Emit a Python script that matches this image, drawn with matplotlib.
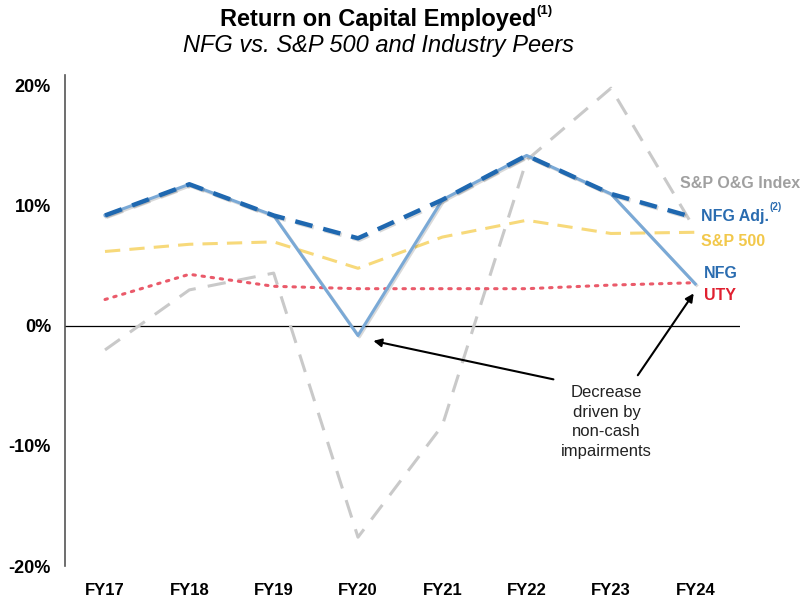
import matplotlib.pyplot as plt
import matplotlib.patheffects as pe

plt.rcParams['font.family'] = ['Liberation Sans', 'DejaVu Sans']

# 数据
years = ['FY17', 'FY18', 'FY19', 'FY20', 'FY21', 'FY22', 'FY23', 'FY24']
nfg = [9.2, 11.8, 9.2, -0.8, 10.5, 14.2, 11.0, 3.5]
nfg_adj = [9.2, 11.8, 9.2, 7.3, 10.5, 14.2, 11.0, 9.0]
sp500 = [6.2, 6.8, 7.0, 4.8, 7.4, 8.8, 7.7, 7.8]
uty = [2.2, 4.3, 3.3, 3.1, 3.1, 3.1, 3.4, 3.6]
sp_og = [-2.0, 3.0, 4.4, -17.6, -8.3, 13.8, 19.8, 8.0]
yticks = [-20, -10, 0, 10, 20]

fig = plt.figure(figsize=(8.05, 6.01), dpi=100)
ax = fig.add_axes([0.0807, 0.0582, 0.8385, 0.817])
x = list(range(len(years)))

shadow = [pe.SimpleLineShadow(offset=(1, -1), alpha=0.15), pe.Normal()]

ax.plot(x, sp_og, color='#c9c9c9', lw=2.2, ls=(0, (6, 4)), zorder=2)
ax.plot(x, uty, color='#ea5a6a', lw=2.2, ls=(0, (0.8, 2.2)), dash_capstyle='round', zorder=3)
ax.plot(x, sp500, color='#f7d97a', lw=2.2, ls=(0, (5, 3)), zorder=3)
ax.plot(x, nfg, color='#7aa9d6', lw=2.2, zorder=4, path_effects=shadow)
ax.plot(x, nfg_adj, color='#1f68b0', lw=3.2, ls=(0, (4, 2.5)), zorder=5, path_effects=shadow)

ax.axhline(0, color='black', lw=0.9, zorder=1)

ax.set_xlim(-0.475, 7.53)
ax.set_ylim(-20, 20.9)
ax.set_xticks(x)
ax.set_xticklabels(years, fontsize=12, fontweight='bold')
ax.set_yticks(yticks)
ax.set_yticklabels([f'{v}%' for v in yticks], fontsize=13, fontweight='bold')
ax.tick_params(axis='y', length=0, pad=10)
ax.tick_params(axis='x', length=0, pad=12)
for s in ['top', 'right', 'bottom']:
    ax.spines[s].set_visible(False)
ax.spines['left'].set_color('#555555')
ax.spines['left'].set_linewidth(1.2)

# 右侧标签
lab = dict(fontsize=11.5, fontweight='bold', va='center', ha='left', clip_on=False)
ax.text(6.82, 11.9, 'S&P O&G Index', color='#a0a0a0', **lab)
t_adj = ax.text(7.07, 9.1, 'NFG Adj.', color='#2a6cb0', **lab)
ax.annotate('(2)', xy=(1.0, 0.8), xycoords=t_adj, fontsize=7, fontweight='bold',
            color='#2a6cb0', va='bottom', ha='left')
ax.text(7.07, 7.0, 'S&P 500', color='#f2c84b', **lab)
ax.text(7.1, 4.4, 'NFG', color='#2a6cb0', **lab)
ax.text(7.1, 2.5, 'UTY', color='#e02030', **lab)

# 注释
ax.text(5.95, -8.0, 'Decrease\ndriven by\nnon-cash\nimpairments', ha='center', va='center',
        fontsize=12, color='#222222', linespacing=1.4)
ax.annotate('', xy=(3.15, -1.2), xytext=(5.35, -4.5),
            arrowprops=dict(arrowstyle='-|>', color='black', lw=1.5, mutation_scale=12))
ax.annotate('', xy=(7.0, 2.9), xytext=(6.3, -4.3),
            arrowprops=dict(arrowstyle='-|>', color='black', lw=1.5, mutation_scale=12))

# 标题
t = fig.text(0.47, 0.968, 'Return on Capital Employed', ha='center', va='center',
             fontsize=17, fontweight='bold')
plt.annotate('(1)', xy=(1.0, 0.6), xycoords=t, fontsize=9.5, fontweight='bold',
             va='bottom', ha='left')
fig.text(0.47, 0.924, 'NFG vs. S&P 500 and Industry Peers', ha='center', va='center',
         fontsize=17, fontstyle='italic')

fig.savefig('out.png', dpi=100)
